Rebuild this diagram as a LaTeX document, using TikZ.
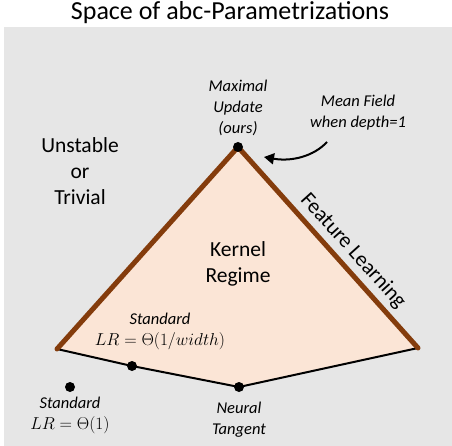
\documentclass[tikz,border=0pt]{standalone}
\usepackage{fontspec}
\setmainfont{Carlito}
\usetikzlibrary{arrows.meta}
\definecolor{bggray}{RGB}{230,230,230}
\definecolor{peach}{RGB}{251,229,214}
\definecolor{brownedge}{RGB}{132,60,12}
\begin{document}
\begin{tikzpicture}[x=1pt,y=-1pt,
  bigtext/.style={font=\fontsize{21.5}{26}\selectfont, align=center, inner sep=0pt},
  smalltext/.style={font=\fontsize{16.5}{21}\selectfont\itshape, align=center, inner sep=0pt},
  brownline/.style={draw=brownedge, line width=5pt, line join=miter, line cap=round},
  baseline/.style={draw=black, line width=2pt},
  dotmark/.style={circle, fill=black, inner sep=0pt, minimum size=10pt},
  callout/.style={draw=black, line width=2pt, -{Triangle[length=10pt,width=11pt]}}]
\useasboundingbox (0,0) rectangle (452,446);
\fill[bggray] (4,27) rectangle (452,446);
\node[font=\fontsize{26}{30}\selectfont, inner sep=0pt] (title) at (230,13) {Space of abc-Parametrizations};
% vertices
\coordinate (apex) at (238,147);
\coordinate (lc) at (57,349);
\coordinate (sw) at (132,366);
\coordinate (nt) at (239,387);
\coordinate (rc) at (418,348);
\fill[peach] (apex) -- (lc) -- (sw) -- (nt) -- (rc) -- cycle;
\draw[baseline] (lc) -- (sw) -- (nt) -- (rc);
\draw[brownline] (lc) -- (apex) -- (rc);
% dots
\node[dotmark] (mup) at (apex) {};
\node[dotmark] (stdw) at (sw) {};
\node[dotmark] (ntk) at (nt) {};
\node[dotmark] (std1) at (70,387) {};
% labels
\node[bigtext] (unst) at (80,171) {Unstable\\or\\Trivial};
\node[bigtext] (kern) at (238,264) {Kernel\\Regime};
\node[bigtext, rotate=-48] (feat) at (353,251) {Feature Learning};
\node[smalltext] (mupl) at (238,108) {Maximal\\Update\\(ours)};
\node[smalltext] (mf) at (358,113) {Mean Field\\when depth=1};
\node[smalltext] (stdwl) at (160,331) {Standard\\\upshape$LR=\Theta(1/width)$};
\node[smalltext] (std1l) at (70,415) {Standard\\\upshape$LR=\Theta(1)$};
\node[smalltext] (ntkl) at (239,420) {Neural\\Tangent};
% arrow
\coordinate (mfstart) at (327,142);
\coordinate (mftip) at (264,157);
\draw[callout] (mfstart) .. controls (314,156) and (292,162) .. (mftip);
\end{tikzpicture}
\end{document}
